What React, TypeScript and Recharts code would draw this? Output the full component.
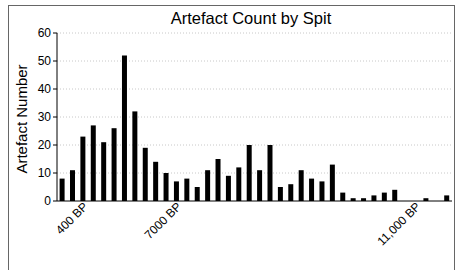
import React from "react";
import { BarChart, Bar, XAxis, YAxis, CartesianGrid } from "recharts";

// spit number, artefact count per spit
const spits = [
  "1", "2", "3", "4", "5", "6", "7", "8", "9", "10",
  "11", "12", "13", "14", "15", "16", "17", "18", "19", "20",
  "21", "22", "23", "24", "25", "26", "27", "28", "29", "30",
  "31", "32", "33", "34", "35", "36", "37", "38",
];
const counts = [
  8, 11, 23, 27, 21, 26, 52, 32, 19, 14,
  10, 7, 8, 5, 11, 15, 9, 12, 20, 11,
  20, 5, 6, 11, 8, 7, 13, 3, 1, 1,
  2, 3, 4, 0, 0, 1, 0, 2,
];
// dates marked on the x axis
const tickSpits = ["4", "13", "36"];
const tickLabels = ["400 BP", "7000 BP", "11,000 BP"];
const yTicks = [0, 10, 20, 30, 40, 50, 60];

const data = spits.map((s, i) => ({ spit: s, count: counts[i] }));

const font = "'Liberation Sans', Arial, Helvetica, sans-serif";

function AngledTick(props: any) {
  const { x, y, payload } = props;
  const idx = tickSpits.indexOf(payload.value);
  if (idx < 0) return null;
  const ax = x - 11;
  const ay = y - 8;
  return (
    <text
      x={ax}
      y={ay}
      textAnchor="end"
      dominantBaseline="hanging"
      transform={`rotate(-45, ${ax}, ${ay})`}
      fontSize={12}
      fill="#000"
      fontFamily={font}
    >
      {tickLabels[idx]}
    </text>
  );
}

export default function App() {
  return (
    <div style={{ position: "fixed", left: 0, top: 0, width: 457, height: 270, background: "#fff", overflow: "hidden" }}>
      <div
        style={{
          position: "absolute",
          left: 8,
          top: 5,
          width: 445,
          height: 290,
          border: "1px solid #666",
        }}
      />
      <div
        style={{
          position: "absolute",
          left: 0,
          top: 9,
          width: 502,
          textAlign: "center",
          fontFamily: font,
          fontSize: 16.5,
          color: "#000",
        }}
      >
        Artefact Count by Spit
      </div>
      <div
        style={{
          position: "absolute",
          left: 21,
          top: 119,
          transform: "translate(-50%, -50%) rotate(-90deg)",
          whiteSpace: "nowrap",
          fontFamily: font,
          fontSize: 15,
          color: "#000",
        }}
      >
        Artefact Number
      </div>
      <div style={{ position: "absolute", left: 0, top: 0 }}>
        <BarChart
          width={457}
          height={270}
          data={data}
          margin={{ top: 33, right: 5, bottom: 0, left: 0 }}
          barCategoryGap="25%"
        >
          <CartesianGrid
            vertical={false}
            stroke="#c8c8c8"
            strokeDasharray="1 2"
            horizontalValues={[10, 20, 30, 40, 50, 60]}
          />
          <XAxis
            dataKey="spit"
            height={69}
            interval={0}
            tickLine={false}
            axisLine={{ stroke: "#000" }}
            tick={<AngledTick />}
          />
          <YAxis
            width={57}
            domain={[0, 60]}
            ticks={yTicks}
            tickSize={4}
            tickMargin={2}
            axisLine={{ stroke: "#000" }}
            tickLine={{ stroke: "#000" }}
            tick={{ fill: "#000", fontSize: 12, fontFamily: font }}
          />
          <Bar dataKey="count" fill="#000" isAnimationActive={false} />
        </BarChart>
      </div>
    </div>
  );
}
